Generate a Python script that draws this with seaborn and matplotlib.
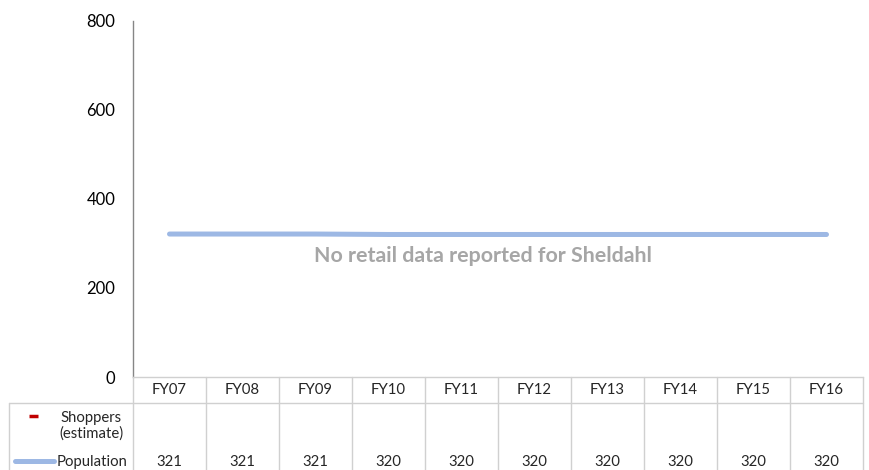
import matplotlib
matplotlib.use("Agg")
import matplotlib.pyplot as plt
import seaborn as sns
import numpy as np
import pandas as pd
from matplotlib.transforms import blended_transform_factory
from matplotlib.lines import Line2D

# ---- data ----
years = ["FY07", "FY08", "FY09", "FY10", "FY11", "FY12", "FY13", "FY14", "FY15", "FY16"]
population = [321, 321, 321, 320, 320, 320, 320, 320, 320, 320]
shoppers = [np.nan] * 10  # no retail figures reported
y_ticks = [0, 200, 400, 600, 800]
note = "No retail data reported for Sheldahl"

POP_COLOR = "#9db8e4"
SHOP_COLOR = "#c00000"
AXIS_GRAY = "#868686"
GRID_GRAY = "#d0d0d0"

sns.set_theme(style="white")
plt.rcParams["font.family"] = ["Lato", "DejaVu Sans"]

W, H = 869, 470
fig = plt.figure(figsize=(W / 100, H / 100), dpi=100)
top_px, base_px, left_px, right_px = 20.7, 377, 133, 863
ax = fig.add_axes([left_px / W, (H - base_px) / H,
                   (right_px - left_px) / W, (base_px - top_px) / H])

df = pd.DataFrame({"pos": np.arange(len(years)), "year": years,
                   "population": population, "shoppers": shoppers})
sns.lineplot(data=df, x="pos", y="population", ax=ax, color=POP_COLOR,
             linewidth=3.6, solid_capstyle="round")

ax.set_xlim(-0.5, len(years) - 0.5)
ax.set_ylim(y_ticks[0], y_ticks[-1])
ax.set_yticks(y_ticks)
ax.set_xticks([])
ax.set_xlabel("")
ax.set_ylabel("")
for s in ("top", "right"):
    ax.spines[s].set_visible(False)
ax.spines["left"].set_color(AXIS_GRAY)
ax.spines["left"].set_linewidth(1.0)
ax.spines["bottom"].set_color(GRID_GRAY)
ax.spines["bottom"].set_linewidth(1.0)
ax.tick_params(axis="y", direction="out", length=4.3, width=1.0,
               color=AXIS_GRAY, pad=8.5, labelsize=12, labelcolor="black")

# "no data" notice, placed slightly left of the plot centre
fig.text(483 / W, 1 - 256 / H, note, ha="center", va="center",
         fontsize=15.4, fontweight="bold", color="#a6a6a6")

# ---- data table under the axis ----
def fy(px):
    return 1 - px / H

trans = blended_transform_factory(ax.transData, fig.transFigure)
row_line_px = 403
for k in range(len(years) + 1):
    x = k - 0.5
    fig.add_artist(Line2D([x, x], [fy(base_px), 0], transform=trans,
                          color=GRID_GRAY, linewidth=1.0))
fig.add_artist(Line2D([9 / W, right_px / W], [fy(row_line_px), fy(row_line_px)],
                      transform=fig.transFigure, color=GRID_GRAY, linewidth=1.0))
fig.add_artist(Line2D([9 / W, 9 / W], [fy(row_line_px), 0],
                      transform=fig.transFigure, color=GRID_GRAY, linewidth=1.0))

table_fs = 10.7
for i, yr in enumerate(years):
    ax.text(i, fy(390), yr, transform=trans, ha="center", va="center", fontsize=table_fs)
    ax.text(i, fy(462), f"{population[i]:.0f}", transform=trans,
            ha="center", va="center", fontsize=table_fs)
    if not np.isnan(shoppers[i]):
        ax.text(i, fy(425), f"{shoppers[i]:.0f}", transform=trans,
                ha="center", va="center", fontsize=table_fs)

# row headers with legend keys
fig.text(91 / W, fy(418), "Shoppers", ha="center", va="center", fontsize=table_fs)
fig.text(91 / W, fy(434), "(estimate)", ha="center", va="center", fontsize=table_fs)
fig.add_artist(Line2D([29 / W, 38 / W], [fy(416), fy(416)], transform=fig.transFigure,
                      color=SHOP_COLOR, linewidth=2.5, solid_capstyle="butt"))
fig.text(57 / W, fy(462), "Population", ha="left", va="center", fontsize=table_fs)
fig.add_artist(Line2D([15 / W, 54 / W], [fy(461), fy(461)], transform=fig.transFigure,
                      color=POP_COLOR, linewidth=3.6, solid_capstyle="round"))

fig.savefig("out.png", dpi=100)
